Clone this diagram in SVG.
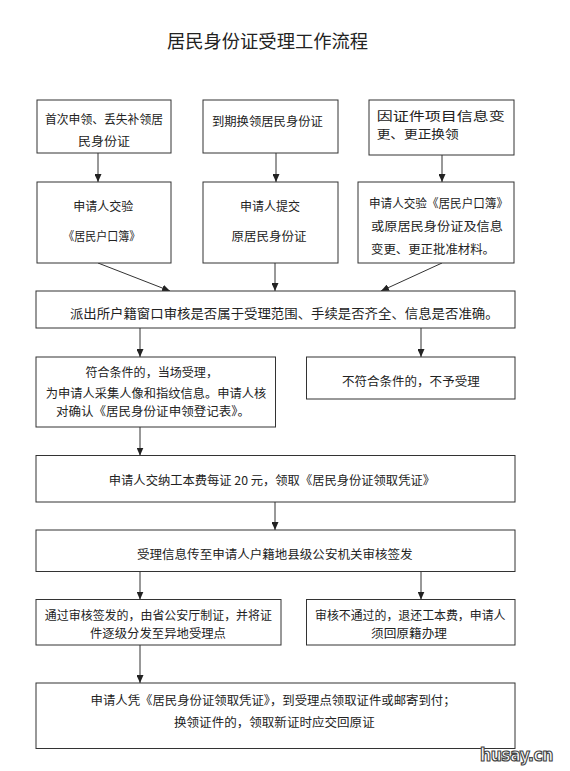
<svg xmlns="http://www.w3.org/2000/svg" width="570" height="771" viewBox="0 0 570 771">
<defs>
<style>
.box{fill:#fff;stroke:#333;stroke-width:1}
.t{font-family:"Noto Sans CJK SC","Liberation Sans",sans-serif;font-size:12px;fill:#222}
.c{text-anchor:middle}
.title{font-family:"Noto Sans CJK SC","Liberation Sans",sans-serif;font-size:18px;fill:#222;text-anchor:middle}
.conn line{stroke:#333;stroke-width:1;marker-end:url(#ah)}
.wm{font-family:"DejaVu Sans","Liberation Sans",sans-serif;font-weight:bold;font-size:17px;fill:#fff;stroke:#444;stroke-width:1.2;letter-spacing:-0.5px}
</style>
<marker id="ah" markerUnits="userSpaceOnUse" markerWidth="8" markerHeight="7" refX="8" refY="3.5" orient="auto">
<path d="M0,0 L8,3.5 L0,7 z" fill="#222"/>
</marker>
</defs>
<rect width="570" height="771" fill="#fff"/>
<text class="title" x="267.5" y="48" textLength="201" lengthAdjust="spacingAndGlyphs">居民身份证受理工作流程</text>

<g class="conn" id="connectors">
<line x1="98" y1="153" x2="98" y2="182"/>
<line x1="276" y1="153" x2="276" y2="182"/>
<line x1="442" y1="155" x2="442" y2="182"/>
<line x1="98" y1="263" x2="170" y2="291"/>
<line x1="275" y1="263" x2="275" y2="291"/>
<line x1="442" y1="263" x2="381" y2="291"/>
<line x1="140" y1="328" x2="140" y2="357"/>
<line x1="421" y1="328" x2="421" y2="357"/>
<line x1="140" y1="427" x2="140" y2="455.5"/>
<line x1="275" y1="502" x2="275" y2="530"/>
<line x1="140" y1="571.5" x2="140" y2="599.5"/>
<line x1="421" y1="571.5" x2="421" y2="599.5"/>
<line x1="140" y1="645" x2="140" y2="683"/>
</g>

<g id="n1">
<rect class="box" x="37" y="100" width="134" height="53"/>
<text class="t c" x="104" y="123.6" textLength="118" lengthAdjust="spacingAndGlyphs">首次申领、丢失补领居</text>
<text class="t c" x="104" y="146.3" textLength="52" lengthAdjust="spacingAndGlyphs">民身份证</text>
</g>
<g id="n2">
<rect class="box" x="203" y="100" width="135" height="53"/>
<text class="t c" x="267.4" y="126.3" textLength="111" lengthAdjust="spacingAndGlyphs">到期换领居民身份证</text>
</g>
<g id="n3">
<rect class="box" x="369" y="100" width="145" height="55"/>
<text class="t" style="font-size:12.5px" x="376.7" y="120.5" textLength="128" lengthAdjust="spacingAndGlyphs">因证件项目信息变</text>
<text class="t" style="font-size:12.5px" x="376.7" y="139" textLength="82" lengthAdjust="spacingAndGlyphs">更、更正换领</text>
</g>
<g id="n4">
<rect class="box" x="37" y="182" width="134" height="81"/>
<text class="t c" x="103.3" y="211.3" textLength="60" lengthAdjust="spacingAndGlyphs">申请人交验</text>
<text class="t c" x="101.7" y="241.3" textLength="77" lengthAdjust="spacingAndGlyphs">《居民户口簿》</text>
</g>
<g id="n5">
<rect class="box" x="203" y="182" width="135" height="81"/>
<text class="t c" x="270" y="211.3" textLength="60" lengthAdjust="spacingAndGlyphs">申请人提交</text>
<text class="t c" x="269" y="241.3" textLength="75" lengthAdjust="spacingAndGlyphs">原居民身份证</text>
</g>
<g id="n6">
<rect class="box" x="358" y="182" width="156" height="81"/>
<text class="t" x="369" y="207.9" textLength="139" lengthAdjust="spacingAndGlyphs">申请人交验《居民户口簿》</text>
<text class="t" x="371" y="230.6" textLength="132" lengthAdjust="spacingAndGlyphs">或原居民身份证及信息</text>
<text class="t" x="371" y="254" textLength="124" lengthAdjust="spacingAndGlyphs">变更、更正批准材料。</text>
</g>
<g id="n7">
<rect class="box" x="36" y="291" width="479" height="37"/>
<text class="t" style="font-size:13px" x="69.9" y="318" textLength="428.7" lengthAdjust="spacingAndGlyphs">派出所户籍窗口审核是否属于受理范围、手续是否齐全、信息是否准确。</text>
</g>
<g id="n8">
<rect class="box" x="36" y="357" width="239.5" height="70"/>
<text class="t" x="85.4" y="376.6" textLength="132.6" lengthAdjust="spacingAndGlyphs">符合条件的，当场受理，</text>
<text class="t" x="45.8" y="397.9" textLength="220.4" lengthAdjust="spacingAndGlyphs">为申请人采集人像和指纹信息。申请人核</text>
<text class="t" x="56" y="416.3" textLength="194" lengthAdjust="spacingAndGlyphs">对确认《居民身份证申领登记表》。</text>
</g>
<g id="n9">
<rect class="box" x="306.5" y="357" width="208.5" height="42"/>
<text class="t" x="342" y="385.8" textLength="137.7" lengthAdjust="spacingAndGlyphs">不符合条件的，不予受理</text>
</g>
<g id="n10">
<rect class="box" x="36" y="455.5" width="479" height="46.5"/>
<text class="t" x="108.8" y="484.8" textLength="326.2" lengthAdjust="spacingAndGlyphs">申请人交纳工本费每证 20 元，领取《居民身份证领取凭证》</text>
</g>
<g id="n11">
<rect class="box" x="36" y="530" width="479" height="41.5"/>
<text class="t" x="137" y="558.9" textLength="275.6" lengthAdjust="spacingAndGlyphs">受理信息传至申请人户籍地县级公安机关审核签发</text>
</g>
<g id="n12">
<rect class="box" x="36" y="599.5" width="245" height="45.5"/>
<text class="t" x="44.8" y="620.4" textLength="227.2" lengthAdjust="spacingAndGlyphs">通过审核签发的，由省公安厅制证，并将证</text>
<text class="t" x="90" y="637.6" textLength="136" lengthAdjust="spacingAndGlyphs">件逐级分发至异地受理点</text>
</g>
<g id="n13">
<rect class="box" x="306.5" y="599.5" width="208.5" height="45.5"/>
<text class="t" x="315" y="620.4" textLength="190.5" lengthAdjust="spacingAndGlyphs">审核不通过的，退还工本费，申请人</text>
<text class="t" x="371" y="637.6" textLength="76" lengthAdjust="spacingAndGlyphs">须回原籍办理</text>
</g>
<g id="n14">
<rect class="box" x="36" y="683" width="479" height="65.5"/>
<text class="t" x="90.6" y="705" textLength="365" lengthAdjust="spacingAndGlyphs">申请人凭《居民身份证领取凭证》，到受理点领取证件或邮寄到付；</text>
<text class="t" x="174" y="727" textLength="200.7" lengthAdjust="spacingAndGlyphs">换领证件的，领取新证时应交回原证</text>
</g>
<text class="wm" x="480" y="761" textLength="73" lengthAdjust="spacingAndGlyphs">husay.cn</text>
</svg>
